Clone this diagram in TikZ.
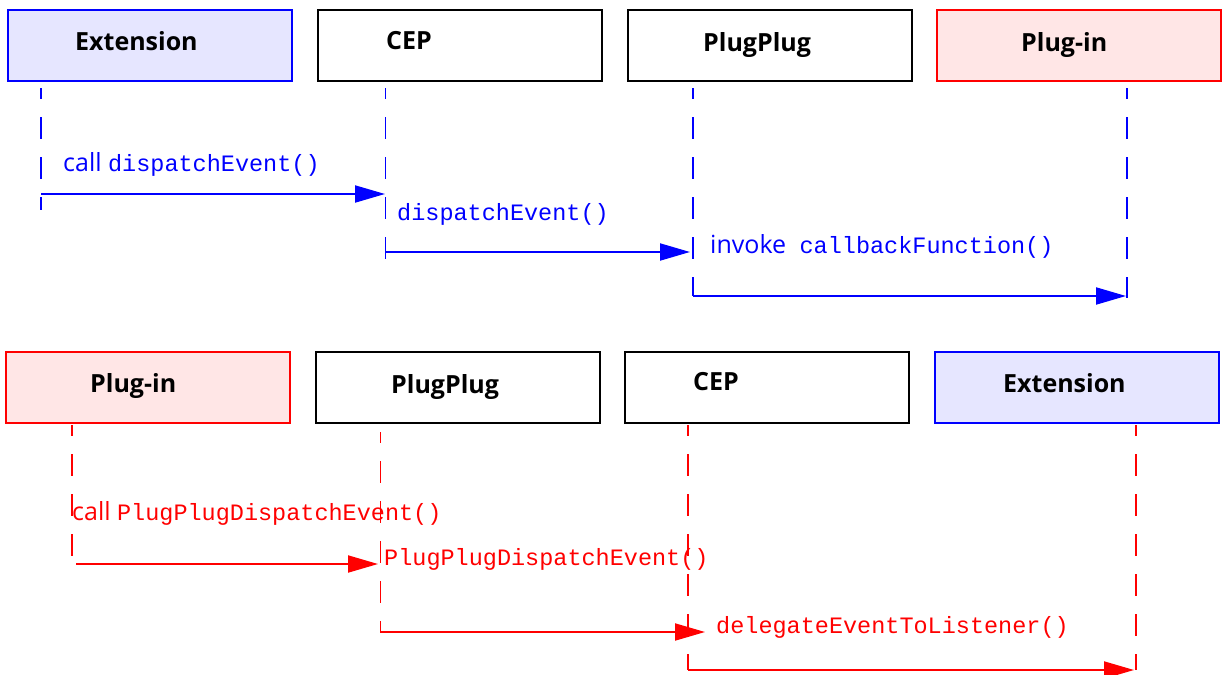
\documentclass[tikz,border=0pt]{standalone}
\usepackage{fontspec}
\setmainfont{Open Sans}
\setsansfont{Open Sans}
\setmonofont{Liberation Mono}
\usetikzlibrary{arrows.meta}

\definecolor{extfill}{RGB}{230,230,255}
\definecolor{plugfill}{RGB}{255,230,230}
\newcommand{\fn}[1]{{\ttfamily\fontsize{23.5}{28}\selectfont #1}}

\begin{document}
\begin{tikzpicture}[x=1pt,y=-1pt,>={Triangle[length=30pt,width=17pt]},
  actor/.style={draw,line width=2pt,minimum width=284pt,minimum height=71pt,inner sep=0pt},
  title/.style={anchor=base west,inner sep=0pt,font=\fontsize{25}{30}\selectfont\bfseries},
  life/.style={line width=2pt,dash pattern=on 22pt off 18pt,dash phase=11pt},
  thinlife/.style={life,line width=1pt},
  msg/.style={->,line width=2pt},
  msglabel/.style={anchor=base west,inner sep=0pt,font=\fontsize{25}{30}\selectfont}]
  \useasboundingbox (0,0) rectangle (1227,675);

  % top row: extension calls the plug-in
  \node[actor,blue,fill=extfill]  (ext1) at (150,45.5)  {};
  \node[actor]                    (cep1) at (460,45.5)  {};
  \node[actor]                    (pp1)  at (770,45.5)  {};
  \node[actor,red,fill=plugfill]  (pin1) at (1079,45.5) {};
  \node[title] (ext1 t) at (75,50)   {Extension};
  \node[title] (cep1 t) at (386,49)  {CEP};
  \node[title] (pp1 t)  at (703,51)  {PlugPlug};
  \node[title] (pin1 t) at (1021,51) {Plug-in};

  \coordinate (ext1 l) at (41,88);   \coordinate (ext1 e) at (41,210);
  \coordinate (cep1 l) at (385,88);  \coordinate (cep1 e) at (385,260);
  \coordinate (pp1 l)  at (693,88);  \coordinate (pp1 e)  at (693,296);
  \coordinate (pin1 l) at (1127,88); \coordinate (pin1 e) at (1127,298);
  \draw[life,blue]     (ext1 l) -- (ext1 e);
  \draw[thinlife,blue] (cep1 l) -- (cep1 e);
  \draw[life,blue]     (pp1 l)  -- (pp1 e);
  \draw[life,blue]     (pin1 l) -- (pin1 e);

  \coordinate (m1 a) at (41,194);  \coordinate (m1 b) at (385,194);
  \coordinate (m2 a) at (385,252); \coordinate (m2 b) at (690,252);
  \coordinate (m3 a) at (693,296); \coordinate (m3 b) at (1126,296);
  \draw[msg,blue] (m1 a) -- (m1 b);
  \draw[msg,blue] (m2 a) -- (m2 b);
  \draw[msg,blue] (m3 a) -- (m3 b);
  \node[msglabel,blue] (m1 t) at (63,171)  {call \fn{dispatchEvent()}};
  \node[msglabel,blue] (m2 t) at (397,220) {\fn{dispatchEvent()}};
  \node[msglabel,blue] (m3 t) at (710,253) {invoke\hspace{7pt} \fn{callbackFunction()}};

  % bottom row: plug-in calls the extension
  \node[actor,red,fill=plugfill]  (pin2) at (148,387.5)  {};
  \node[actor]                    (pp2)  at (458,387.5)  {};
  \node[actor]                    (cep2) at (767,387.5)  {};
  \node[actor,blue,fill=extfill]  (ext2) at (1077,387.5) {};
  \node[title] (pin2 t) at (90,392)   {Plug-in};
  \node[title] (pp2 t)  at (391,393)  {PlugPlug};
  \node[title] (cep2 t) at (693,390)  {CEP};
  \node[title] (ext2 t) at (1003,392) {Extension};

  \coordinate (pin2 l) at (72,425);   \coordinate (pin2 e) at (72,565);
  \coordinate (pp2 l)  at (380,432);  \coordinate (pp2 e)  at (380,632);
  \coordinate (cep2 l) at (688,425);  \coordinate (cep2 e) at (688,670);
  \coordinate (ext2 l) at (1136,425); \coordinate (ext2 e) at (1136,670);
  \draw[life,red]     (pin2 l) -- (pin2 e);
  \draw[thinlife,red] (pp2 l)  -- (pp2 e);
  \draw[life,red]     (cep2 l) -- (cep2 e);
  \draw[life,red]     (ext2 l) -- (ext2 e);

  \coordinate (m4 a) at (76,564);  \coordinate (m4 b) at (378,564);
  \coordinate (m5 a) at (380,632); \coordinate (m5 b) at (705,632);
  \coordinate (m6 a) at (688,670); \coordinate (m6 b) at (1134,670);
  \draw[msg,red] (m4 a) -- (m4 b);
  \draw[msg,red] (m5 a) -- (m5 b);
  \draw[msg,red] (m6 a) -- (m6 b);
  \node[msglabel,red] (m4 t) at (72,520)  {call \fn{PlugPlugDispatchEvent()}};
  \node[msglabel,red] (m5 t) at (384,565) {\fn{PlugPlugDispatchEvent()}};
  \node[msglabel,red] (m6 t) at (716,633) {\fn{delegateEventToListener()}};
\end{tikzpicture}
\end{document}
